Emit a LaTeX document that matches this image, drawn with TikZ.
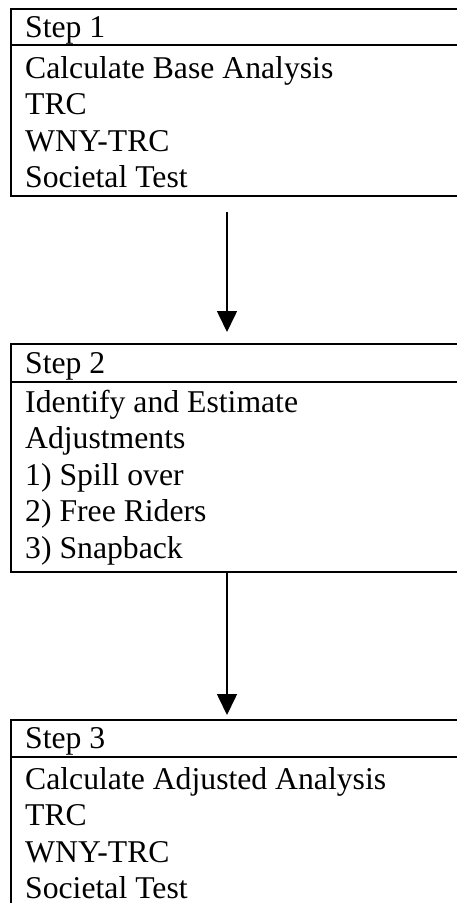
\documentclass[tikz,border=0pt]{standalone}
\usepackage{fontspec}
\setmainfont{Liberation Serif}
\usetikzlibrary{arrows.meta}
\begin{document}
\begin{tikzpicture}[x=1pt,y=-1pt,
  stepbox/.style={draw, line width=2.2pt, anchor=north west, minimum width=480pt, inner sep=0pt, outer sep=0pt},
  txt/.style={anchor=base west, inner sep=0pt, font=\fontsize{31.7}{36.5}\selectfont},
  divider/.style={line width=2.2pt},
  flow/.style={line width=1.6pt, -{Triangle[length=21pt,width=20pt]}}]
\useasboundingbox (0,0) rectangle (457,903);
\clip (0,0) rectangle (457,903);
% boxes
\node[stepbox, minimum height=187pt] (box1) at (11,9) {};
\node[stepbox, minimum height=228pt] (box2) at (11,344) {};
\node[stepbox, minimum height=220pt] (box3) at (11,720) {};
% dividers
\draw[divider] ([yshift=-36pt]box1.north west) -- ([yshift=-36pt]box1.north east);
\draw[divider] ([yshift=-38pt]box2.north west) -- ([yshift=-38pt]box2.north east);
\draw[divider] ([yshift=-37pt]box3.north west) -- ([yshift=-37pt]box3.north east);
% texts box 1
\node[txt] (s1) at (25,37) {Step 1};
\node[txt] (s1a) at (25,78) {Calculate Base Analysis};
\node[txt] (s1b) at (25,114.5) {TRC};
\node[txt] (s1c) at (25,151) {WNY-TRC};
\node[txt] (s1d) at (25,187.5) {Societal Test};
% texts box 2
\node[txt] (s2) at (25,373) {Step 2};
\node[txt] (s2a) at (25,412) {Identify and Estimate};
\node[txt] (s2b) at (25,448.5) {Adjustments};
\node[txt] (s2c) at (25,485) {1) Spill over};
\node[txt] (s2d) at (25,521.5) {2) Free Riders};
\node[txt] (s2e) at (25,558) {3) Snapback};
% texts box 3
\node[txt] (s3) at (25,748) {Step 3};
\node[txt] (s3a) at (25,789) {Calculate Adjusted Analysis};
\node[txt] (s3b) at (25,825.5) {TRC};
\node[txt] (s3c) at (25,862) {WNY-TRC};
\node[txt] (s3d) at (25,898.5) {Societal Test};
% arrows
\draw[flow] ([xshift=216pt,yshift=-16pt]box1.south west) -- ([xshift=216pt,yshift=12pt]box2.north west);
\draw[flow] ([xshift=216pt]box2.south west) -- ([xshift=216pt,yshift=5pt]box3.north west);
\end{tikzpicture}
\end{document}
